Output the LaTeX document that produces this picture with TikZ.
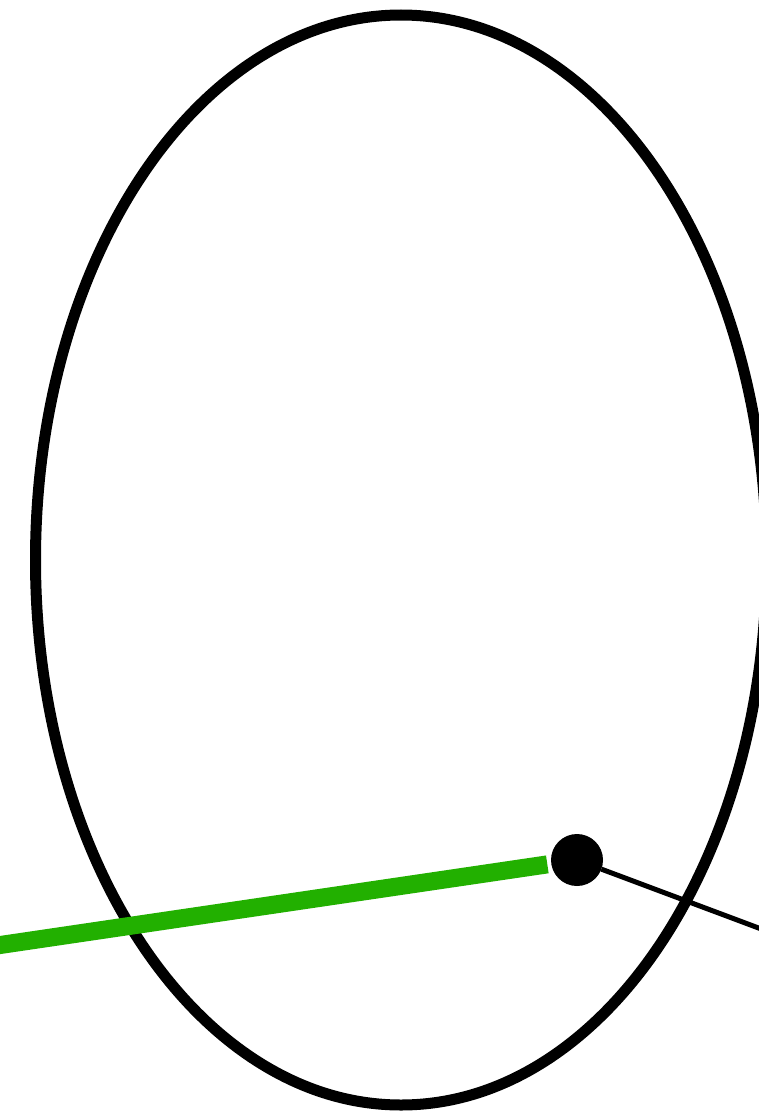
\documentclass[tikz,border=0pt]{standalone}
\usepackage{xcolor}
\definecolor{lgreen}{RGB}{34,176,0}
\begin{document}
\begin{tikzpicture}[x=1pt,y=-1pt,
  outline/.style={draw=black,line width=11pt},
  dotnode/.style={circle,fill=black,inner sep=0pt,minimum size=52pt,outer sep=0pt},
  greenline/.style={draw=lgreen,line width=18pt},
  thinline/.style={draw=black,line width=5pt}]
\useasboundingbox (0,0) rectangle (759,1116);
\clip (0,0) rectangle (759,1116);
\draw[outline] (401,560) ellipse [x radius=365.5, y radius=545];
\node[dotnode] (dot) at (577,860) {};
\coordinate (gstart) at (-10,946.5);
\coordinate (tend) at (780,936);
\draw[greenline,shorten >=4pt] (gstart) -- (dot);
\draw[thinline] (dot) -- (tend);
\end{tikzpicture}
\end{document}
